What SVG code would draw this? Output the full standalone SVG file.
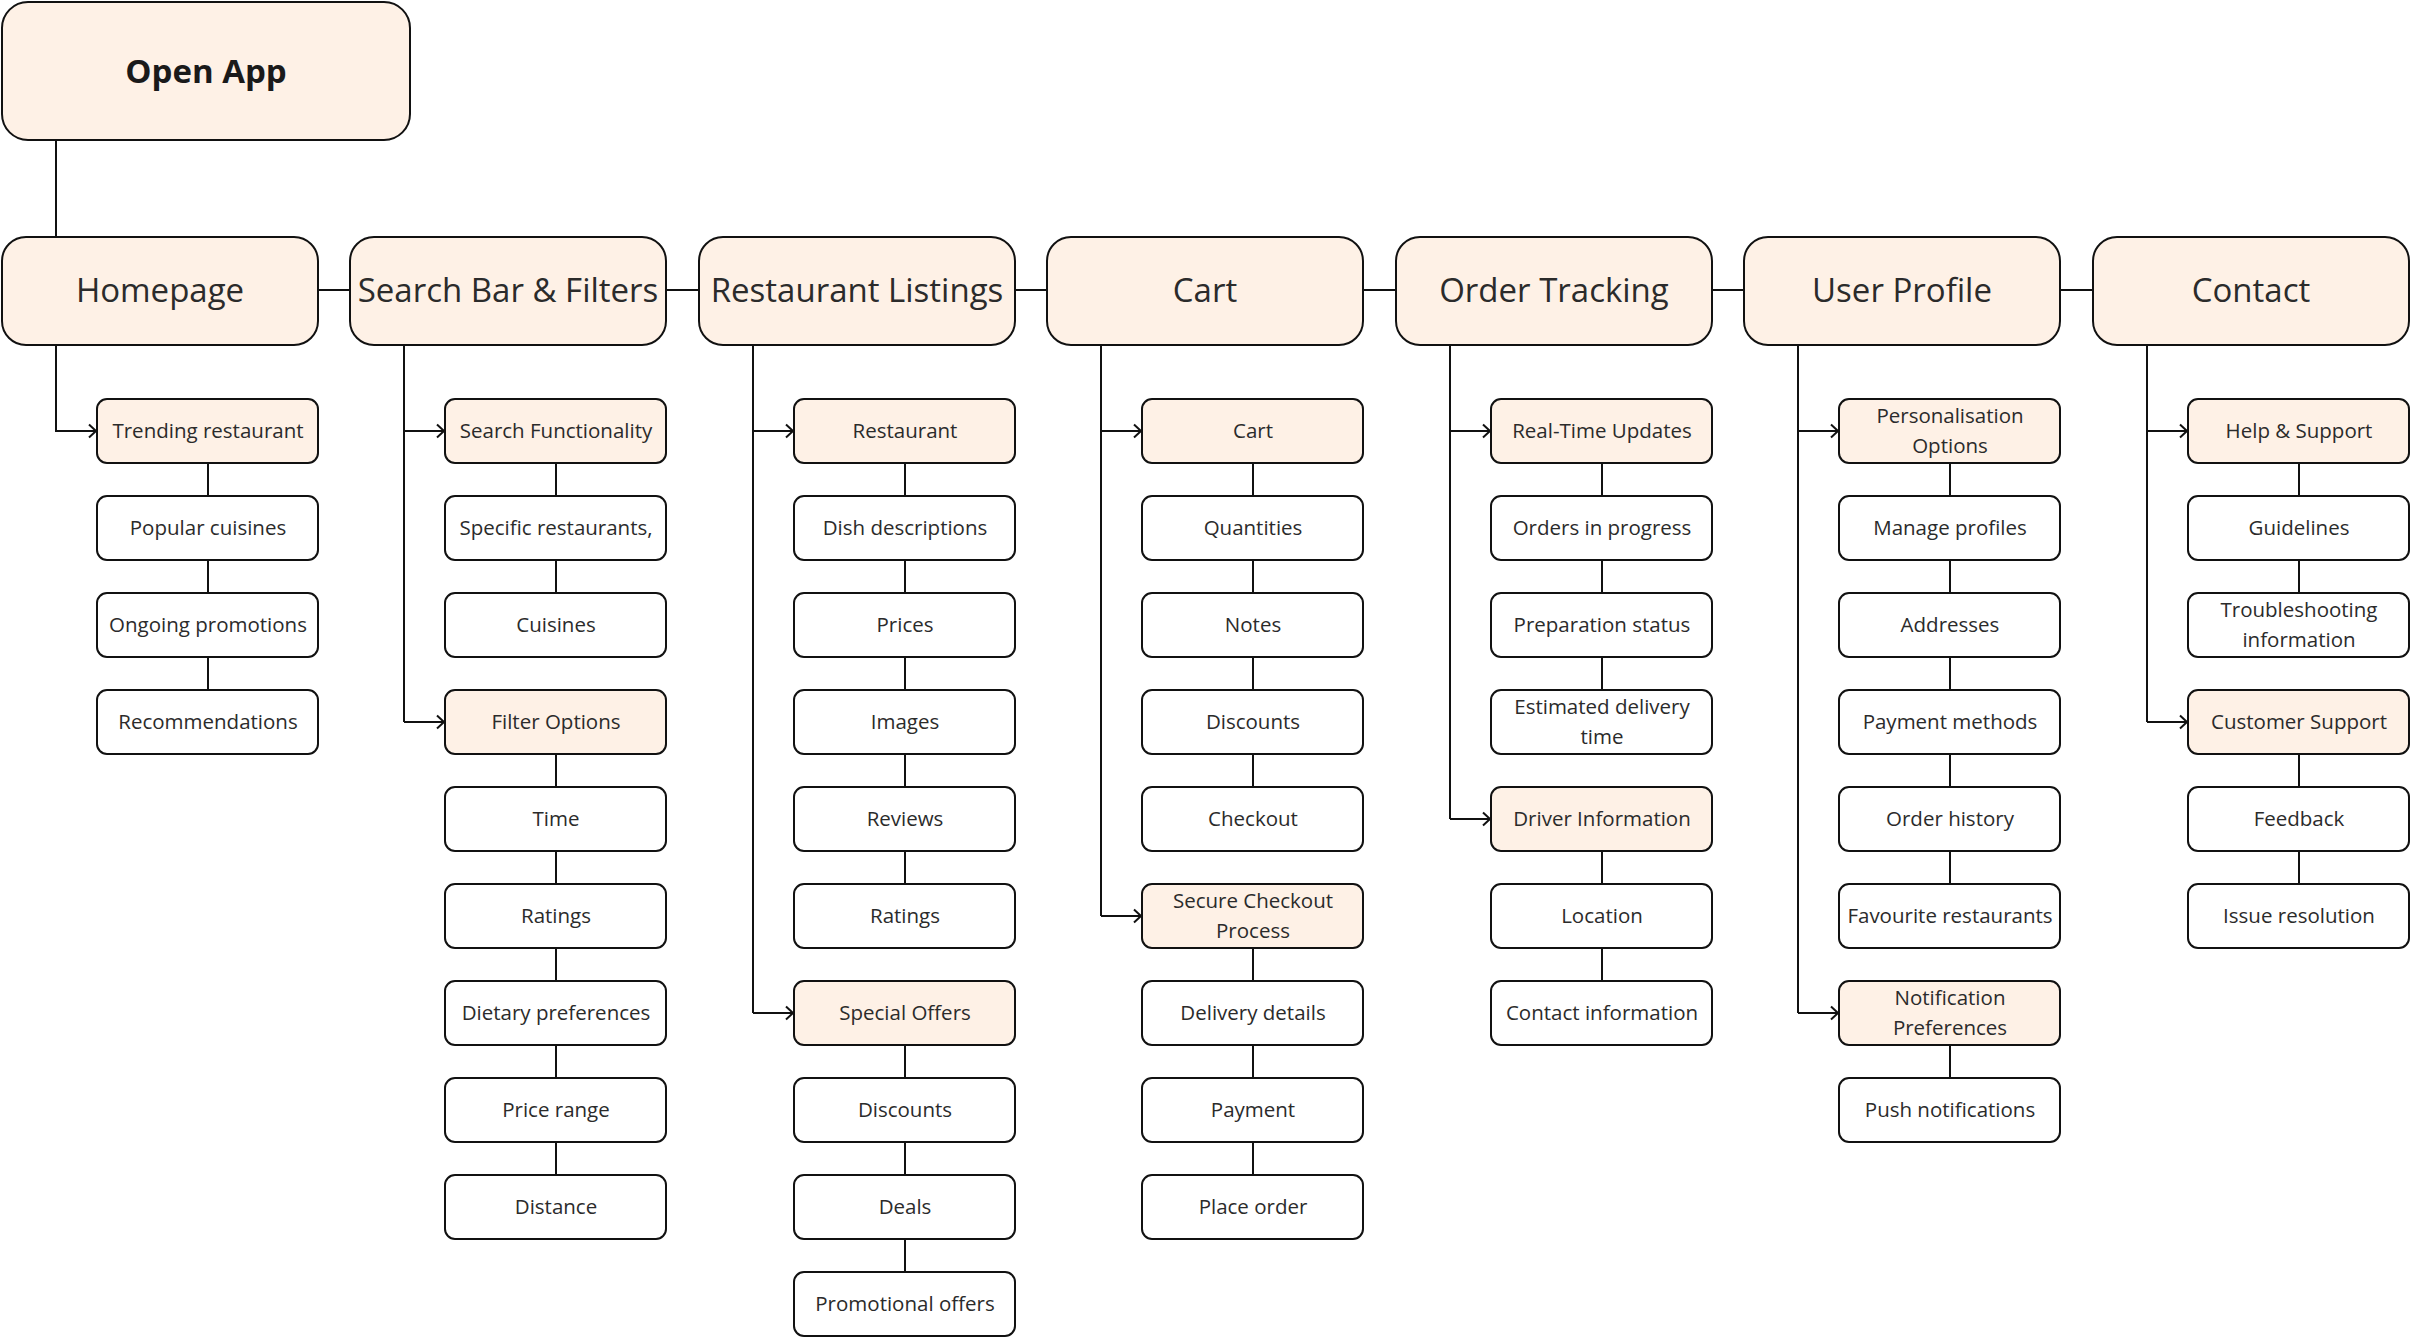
<svg xmlns="http://www.w3.org/2000/svg" width="2412" height="1338" viewBox="0 0 2412 1338">
<defs>
<style>
.bg{fill:#ffffff}
.hi{fill:#fef1e6;stroke:#111;stroke-width:2}
.pl{fill:#ffffff;stroke:#111;stroke-width:2}
.ln{stroke:#111;stroke-width:2;fill:none}
.t{font-family:"Open Sans","Noto Sans",sans-serif;fill:#2b2b2b;text-anchor:middle}
.m{font-size:33px}
.c{font-size:20.5px}
.b{font-family:"Open Sans","Noto Sans",sans-serif;font-weight:700;font-size:33px;fill:#1a1a1a;text-anchor:middle}
</style>
<marker id="ah" markerUnits="userSpaceOnUse" markerWidth="12" markerHeight="16" refX="10" refY="8" orient="auto">
<path d="M3,1.5 L10,8 L3,14.5" fill="none" stroke="#111" stroke-width="2"/>
</marker>
</defs>
<rect class="bg" x="0" y="0" width="2412" height="1338"/>
<g id="connectors">
<line class="ln" x1="56" y1="140" x2="56" y2="237"/>
<line class="ln" x1="318" y1="290" x2="350" y2="290"/>
<line class="ln" x1="666" y1="290" x2="699" y2="290"/>
<line class="ln" x1="1015" y1="290" x2="1047" y2="290"/>
<line class="ln" x1="1363" y1="290" x2="1396" y2="290"/>
<line class="ln" x1="1712" y1="290" x2="1744" y2="290"/>
<line class="ln" x1="2060" y1="290" x2="2093" y2="290"/>
<!-- col 0 -->
<polyline class="ln" points="56,345 56,431 96,431" marker-end="url(#ah)"/>
<line class="ln" x1="208" y1="463" x2="208" y2="496"/>
<line class="ln" x1="208" y1="560" x2="208" y2="593"/>
<line class="ln" x1="208" y1="657" x2="208" y2="690"/>
<!-- col 1 -->
<line class="ln" x1="404" y1="345" x2="404" y2="722"/>
<line class="ln" x1="404" y1="431" x2="444" y2="431" marker-end="url(#ah)"/>
<line class="ln" x1="404" y1="722" x2="444" y2="722" marker-end="url(#ah)"/>
<line class="ln" x1="556" y1="463" x2="556" y2="496"/>
<line class="ln" x1="556" y1="560" x2="556" y2="593"/>
<line class="ln" x1="556" y1="754" x2="556" y2="787"/>
<line class="ln" x1="556" y1="851" x2="556" y2="884"/>
<line class="ln" x1="556" y1="948" x2="556" y2="981"/>
<line class="ln" x1="556" y1="1045" x2="556" y2="1078"/>
<line class="ln" x1="556" y1="1142" x2="556" y2="1175"/>
<!-- col 2 -->
<line class="ln" x1="753" y1="345" x2="753" y2="1013"/>
<line class="ln" x1="753" y1="431" x2="793" y2="431" marker-end="url(#ah)"/>
<line class="ln" x1="753" y1="1013" x2="793" y2="1013" marker-end="url(#ah)"/>
<line class="ln" x1="905" y1="463" x2="905" y2="496"/>
<line class="ln" x1="905" y1="560" x2="905" y2="593"/>
<line class="ln" x1="905" y1="657" x2="905" y2="690"/>
<line class="ln" x1="905" y1="754" x2="905" y2="787"/>
<line class="ln" x1="905" y1="851" x2="905" y2="884"/>
<line class="ln" x1="905" y1="1045" x2="905" y2="1078"/>
<line class="ln" x1="905" y1="1142" x2="905" y2="1175"/>
<line class="ln" x1="905" y1="1239" x2="905" y2="1272"/>
<!-- col 3 -->
<line class="ln" x1="1101" y1="345" x2="1101" y2="916"/>
<line class="ln" x1="1101" y1="431" x2="1141" y2="431" marker-end="url(#ah)"/>
<line class="ln" x1="1101" y1="916" x2="1141" y2="916" marker-end="url(#ah)"/>
<line class="ln" x1="1253" y1="463" x2="1253" y2="496"/>
<line class="ln" x1="1253" y1="560" x2="1253" y2="593"/>
<line class="ln" x1="1253" y1="657" x2="1253" y2="690"/>
<line class="ln" x1="1253" y1="754" x2="1253" y2="787"/>
<line class="ln" x1="1253" y1="948" x2="1253" y2="981"/>
<line class="ln" x1="1253" y1="1045" x2="1253" y2="1078"/>
<line class="ln" x1="1253" y1="1142" x2="1253" y2="1175"/>
<!-- col 4 -->
<line class="ln" x1="1450" y1="345" x2="1450" y2="819"/>
<line class="ln" x1="1450" y1="431" x2="1490" y2="431" marker-end="url(#ah)"/>
<line class="ln" x1="1450" y1="819" x2="1490" y2="819" marker-end="url(#ah)"/>
<line class="ln" x1="1602" y1="463" x2="1602" y2="496"/>
<line class="ln" x1="1602" y1="560" x2="1602" y2="593"/>
<line class="ln" x1="1602" y1="657" x2="1602" y2="690"/>
<line class="ln" x1="1602" y1="851" x2="1602" y2="884"/>
<line class="ln" x1="1602" y1="948" x2="1602" y2="981"/>
<!-- col 5 -->
<line class="ln" x1="1798" y1="345" x2="1798" y2="1013"/>
<line class="ln" x1="1798" y1="431" x2="1838" y2="431" marker-end="url(#ah)"/>
<line class="ln" x1="1798" y1="1013" x2="1838" y2="1013" marker-end="url(#ah)"/>
<line class="ln" x1="1950" y1="463" x2="1950" y2="496"/>
<line class="ln" x1="1950" y1="560" x2="1950" y2="593"/>
<line class="ln" x1="1950" y1="657" x2="1950" y2="690"/>
<line class="ln" x1="1950" y1="754" x2="1950" y2="787"/>
<line class="ln" x1="1950" y1="851" x2="1950" y2="884"/>
<line class="ln" x1="1950" y1="1045" x2="1950" y2="1078"/>
<!-- col 6 -->
<line class="ln" x1="2147" y1="345" x2="2147" y2="722"/>
<line class="ln" x1="2147" y1="431" x2="2187" y2="431" marker-end="url(#ah)"/>
<line class="ln" x1="2147" y1="722" x2="2187" y2="722" marker-end="url(#ah)"/>
<line class="ln" x1="2299" y1="463" x2="2299" y2="496"/>
<line class="ln" x1="2299" y1="560" x2="2299" y2="593"/>
<line class="ln" x1="2299" y1="754" x2="2299" y2="787"/>
<line class="ln" x1="2299" y1="851" x2="2299" y2="884"/>
</g>

<g id="open-app"><rect class="hi" x="2" y="2" width="408" height="138" rx="26"/><text class="b" x="206" y="83">Open App</text></g>

<g id="homepage"><rect class="hi" x="2" y="237" width="316" height="108" rx="24"/><text class="t m" x="160" y="302">Homepage</text></g>
<g id="search-bar"><rect class="hi" x="350" y="237" width="316" height="108" rx="24"/><text class="t m" x="508" y="302">Search Bar &amp; Filters</text></g>
<g id="restaurant-listings"><rect class="hi" x="699" y="237" width="316" height="108" rx="24"/><text class="t m" x="857" y="302">Restaurant Listings</text></g>
<g id="cart"><rect class="hi" x="1047" y="237" width="316" height="108" rx="24"/><text class="t m" x="1205" y="302">Cart</text></g>
<g id="order-tracking"><rect class="hi" x="1396" y="237" width="316" height="108" rx="24"/><text class="t m" x="1554" y="302">Order Tracking</text></g>
<g id="user-profile"><rect class="hi" x="1744" y="237" width="316" height="108" rx="24"/><text class="t m" x="1902" y="302">User Profile</text></g>
<g id="contact"><rect class="hi" x="2093" y="237" width="316" height="108" rx="24"/><text class="t m" x="2251" y="302">Contact</text></g>

<!-- col 0 children -->
<g id="trending-restaurant"><rect class="hi" x="97" y="399" width="221" height="64" rx="10"/><text class="t c" x="208" y="438">Trending restaurant</text></g>
<g id="popular-cuisines"><rect class="pl" x="97" y="496" width="221" height="64" rx="10"/><text class="t c" x="208" y="535">Popular cuisines</text></g>
<g id="ongoing-promotions"><rect class="pl" x="97" y="593" width="221" height="64" rx="10"/><text class="t c" x="208" y="632">Ongoing promotions</text></g>
<g id="recommendations"><rect class="pl" x="97" y="690" width="221" height="64" rx="10"/><text class="t c" x="208" y="729">Recommendations</text></g>

<!-- col 1 children -->
<g id="search-functionality"><rect class="hi" x="445" y="399" width="221" height="64" rx="10"/><text class="t c" x="556" y="438">Search Functionality</text></g>
<g id="specific-restaurants"><rect class="pl" x="445" y="496" width="221" height="64" rx="10"/><text class="t c" x="556" y="535">Specific restaurants,</text></g>
<g id="cuisines"><rect class="pl" x="445" y="593" width="221" height="64" rx="10"/><text class="t c" x="556" y="632">Cuisines</text></g>
<g id="filter-options"><rect class="hi" x="445" y="690" width="221" height="64" rx="10"/><text class="t c" x="556" y="729">Filter Options</text></g>
<g id="time"><rect class="pl" x="445" y="787" width="221" height="64" rx="10"/><text class="t c" x="556" y="826">Time</text></g>
<g id="ratings-filter"><rect class="pl" x="445" y="884" width="221" height="64" rx="10"/><text class="t c" x="556" y="923">Ratings</text></g>
<g id="dietary-preferences"><rect class="pl" x="445" y="981" width="221" height="64" rx="10"/><text class="t c" x="556" y="1020">Dietary preferences</text></g>
<g id="price-range"><rect class="pl" x="445" y="1078" width="221" height="64" rx="10"/><text class="t c" x="556" y="1117">Price range</text></g>
<g id="distance"><rect class="pl" x="445" y="1175" width="221" height="64" rx="10"/><text class="t c" x="556" y="1214">Distance</text></g>

<!-- col 2 children -->
<g id="restaurant"><rect class="hi" x="794" y="399" width="221" height="64" rx="10"/><text class="t c" x="905" y="438">Restaurant</text></g>
<g id="dish-descriptions"><rect class="pl" x="794" y="496" width="221" height="64" rx="10"/><text class="t c" x="905" y="535">Dish descriptions</text></g>
<g id="prices"><rect class="pl" x="794" y="593" width="221" height="64" rx="10"/><text class="t c" x="905" y="632">Prices</text></g>
<g id="images"><rect class="pl" x="794" y="690" width="221" height="64" rx="10"/><text class="t c" x="905" y="729">Images</text></g>
<g id="reviews"><rect class="pl" x="794" y="787" width="221" height="64" rx="10"/><text class="t c" x="905" y="826">Reviews</text></g>
<g id="ratings-listing"><rect class="pl" x="794" y="884" width="221" height="64" rx="10"/><text class="t c" x="905" y="923">Ratings</text></g>
<g id="special-offers"><rect class="hi" x="794" y="981" width="221" height="64" rx="10"/><text class="t c" x="905" y="1020">Special Offers</text></g>
<g id="discounts-offers"><rect class="pl" x="794" y="1078" width="221" height="64" rx="10"/><text class="t c" x="905" y="1117">Discounts</text></g>
<g id="deals"><rect class="pl" x="794" y="1175" width="221" height="64" rx="10"/><text class="t c" x="905" y="1214">Deals</text></g>
<g id="promotional-offers"><rect class="pl" x="794" y="1272" width="221" height="64" rx="10"/><text class="t c" x="905" y="1311">Promotional offers</text></g>

<!-- col 3 children -->
<g id="cart-item"><rect class="hi" x="1142" y="399" width="221" height="64" rx="10"/><text class="t c" x="1253" y="438">Cart</text></g>
<g id="quantities"><rect class="pl" x="1142" y="496" width="221" height="64" rx="10"/><text class="t c" x="1253" y="535">Quantities</text></g>
<g id="notes"><rect class="pl" x="1142" y="593" width="221" height="64" rx="10"/><text class="t c" x="1253" y="632">Notes</text></g>
<g id="discounts-cart"><rect class="pl" x="1142" y="690" width="221" height="64" rx="10"/><text class="t c" x="1253" y="729">Discounts</text></g>
<g id="checkout"><rect class="pl" x="1142" y="787" width="221" height="64" rx="10"/><text class="t c" x="1253" y="826">Checkout</text></g>
<g id="secure-checkout"><rect class="hi" x="1142" y="884" width="221" height="64" rx="10"/><text class="t c" x="1253" y="908">Secure Checkout</text><text class="t c" x="1253" y="938">Process</text></g>
<g id="delivery-details"><rect class="pl" x="1142" y="981" width="221" height="64" rx="10"/><text class="t c" x="1253" y="1020">Delivery details</text></g>
<g id="payment"><rect class="pl" x="1142" y="1078" width="221" height="64" rx="10"/><text class="t c" x="1253" y="1117">Payment</text></g>
<g id="place-order"><rect class="pl" x="1142" y="1175" width="221" height="64" rx="10"/><text class="t c" x="1253" y="1214">Place order</text></g>

<!-- col 4 children -->
<g id="real-time-updates"><rect class="hi" x="1491" y="399" width="221" height="64" rx="10"/><text class="t c" x="1602" y="438">Real-Time Updates</text></g>
<g id="orders-in-progress"><rect class="pl" x="1491" y="496" width="221" height="64" rx="10"/><text class="t c" x="1602" y="535">Orders in progress</text></g>
<g id="preparation-status"><rect class="pl" x="1491" y="593" width="221" height="64" rx="10"/><text class="t c" x="1602" y="632">Preparation status</text></g>
<g id="estimated-delivery"><rect class="pl" x="1491" y="690" width="221" height="64" rx="10"/><text class="t c" x="1602" y="714">Estimated delivery</text><text class="t c" x="1602" y="744">time</text></g>
<g id="driver-information"><rect class="hi" x="1491" y="787" width="221" height="64" rx="10"/><text class="t c" x="1602" y="826">Driver Information</text></g>
<g id="location"><rect class="pl" x="1491" y="884" width="221" height="64" rx="10"/><text class="t c" x="1602" y="923">Location</text></g>
<g id="contact-information"><rect class="pl" x="1491" y="981" width="221" height="64" rx="10"/><text class="t c" x="1602" y="1020">Contact information</text></g>

<!-- col 5 children -->
<g id="personalisation-options"><rect class="hi" x="1839" y="399" width="221" height="64" rx="10"/><text class="t c" x="1950" y="423">Personalisation</text><text class="t c" x="1950" y="453">Options</text></g>
<g id="manage-profiles"><rect class="pl" x="1839" y="496" width="221" height="64" rx="10"/><text class="t c" x="1950" y="535">Manage profiles</text></g>
<g id="addresses"><rect class="pl" x="1839" y="593" width="221" height="64" rx="10"/><text class="t c" x="1950" y="632">Addresses</text></g>
<g id="payment-methods"><rect class="pl" x="1839" y="690" width="221" height="64" rx="10"/><text class="t c" x="1950" y="729">Payment methods</text></g>
<g id="order-history"><rect class="pl" x="1839" y="787" width="221" height="64" rx="10"/><text class="t c" x="1950" y="826">Order history</text></g>
<g id="favourite-restaurants"><rect class="pl" x="1839" y="884" width="221" height="64" rx="10"/><text class="t c" x="1950" y="923">Favourite restaurants</text></g>
<g id="notification-preferences"><rect class="hi" x="1839" y="981" width="221" height="64" rx="10"/><text class="t c" x="1950" y="1005">Notification</text><text class="t c" x="1950" y="1035">Preferences</text></g>
<g id="push-notifications"><rect class="pl" x="1839" y="1078" width="221" height="64" rx="10"/><text class="t c" x="1950" y="1117">Push notifications</text></g>

<!-- col 6 children -->
<g id="help-support"><rect class="hi" x="2188" y="399" width="221" height="64" rx="10"/><text class="t c" x="2299" y="438">Help &amp; Support</text></g>
<g id="guidelines"><rect class="pl" x="2188" y="496" width="221" height="64" rx="10"/><text class="t c" x="2299" y="535">Guidelines</text></g>
<g id="troubleshooting"><rect class="pl" x="2188" y="593" width="221" height="64" rx="10"/><text class="t c" x="2299" y="617">Troubleshooting</text><text class="t c" x="2299" y="647">information</text></g>
<g id="customer-support"><rect class="hi" x="2188" y="690" width="221" height="64" rx="10"/><text class="t c" x="2299" y="729">Customer Support</text></g>
<g id="feedback"><rect class="pl" x="2188" y="787" width="221" height="64" rx="10"/><text class="t c" x="2299" y="826">Feedback</text></g>
<g id="issue-resolution"><rect class="pl" x="2188" y="884" width="221" height="64" rx="10"/><text class="t c" x="2299" y="923">Issue resolution</text></g>
</svg>
